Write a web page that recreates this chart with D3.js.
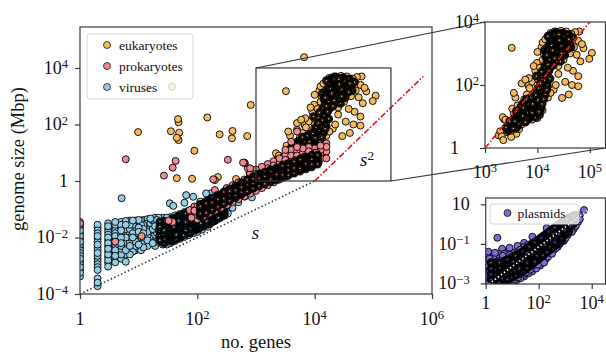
<!DOCTYPE html>
<html>
<head>
<meta charset="utf-8">
<script src="https://cdn.jsdelivr.net/npm/d3@7"></script>
<style>
  body { margin: 0; background: #fff; }
  svg text { font-family: 'Liberation Serif', 'DejaVu Serif', serif; fill: #111; }
</style>
</head>
<body>
<div id="chart"></div>
<script>
/**
 *  Genome size vs number of genes, with two insets
 *  every point is [log10 no. genes, log10 genome size (Mbp)]
 */

/** viruses: columns of points at one gene count, then the loose ones */
const virusColumns = [
  [0.00, [-1.45,-1.55,-1.65,-1.75,-1.85,-1.95,-2.05,-2.15,-2.25,-2.35,-2.45,-2.55,-2.65,-2.75,-2.85,-2.95,-3.05,-3.15,-3.25,-3.38]],
  [0.30, [-1.55,-1.65,-1.75,-1.85,-1.95,-2.05,-2.15,-2.25,-2.35,-2.45,-2.55,-2.65,-2.75,-2.85,-2.95,-3.05,-3.15,-3.45,-3.6,-3.72]],
  [0.48, [-1.5,-1.6,-1.7,-1.8,-1.9,-2.0,-2.1,-2.2,-2.3,-2.4,-2.5,-2.6,-2.7,-2.8,-2.9,-3.03]],
  [0.60, [-1.45,-1.55,-1.65,-1.75,-1.85,-1.95,-2.05,-2.15,-2.25,-2.35,-2.45,-2.55,-2.65,-2.75,-2.88]],
  [0.70, [-1.45,-1.55,-1.65,-1.75,-1.9,-2.0,-2.1,-2.2,-2.3,-2.4,-2.5,-2.6,-2.75]],
  [0.78, [-1.42,-1.55,-1.7,-1.85,-2.0,-2.15,-2.3,-2.45,-2.6,-2.86]],
  [0.85, [-1.4,-1.55,-1.7,-1.85,-2.0,-2.15,-2.3,-2.45,-2.6]],
  [0.90, [-1.4,-1.55,-1.7,-1.85,-2.0,-2.15,-2.3,-2.5]],
  [0.95, [-1.4,-1.55,-1.7,-1.85,-2.0,-2.15,-2.3,-2.45]],
  [1.00, [-1.38,-1.5,-1.65,-1.8,-1.95,-2.1,-2.25,-2.4]],
  [1.04, [-1.4,-1.55,-1.7,-1.85,-2.0,-2.2,-2.45]],
  [1.08, [-1.38,-1.55,-1.7,-1.85,-2.0,-2.15,-2.35]],
  [1.15, [-1.35,-1.5,-1.65,-1.8,-1.95,-2.1,-2.3]],
  [1.20, [-1.33,-1.5,-1.65,-1.8,-1.95,-2.15]],
  [1.24, [-1.4,-1.55,-1.7,-1.85,-2.0,-2.2]],
  [1.28, [-1.3,-1.45,-1.6,-1.75,-1.9,-2.1,-2.3]],
  [1.31, [-1.38,-1.52,-1.68,-1.83,-1.98,-2.15]],
  [1.34, [-1.3,-1.45,-1.6,-1.75,-1.9,-2.1]],
  [1.38, [-1.36,-1.5,-1.66,-1.82,-1.97,-2.12]],
  [1.41, [-1.3,-1.45,-1.6,-1.75,-1.9,-2.05,-2.25]],
  [1.45, [-1.37,-1.52,-1.68,-1.83,-1.98,-2.15]],
  [1.48, [-1.3,-1.45,-1.6,-1.75,-1.9,-2.05,-2.25]],
  [1.51, [-1.35,-1.5,-1.65,-1.8,-1.95,-2.1]],
  [1.54, [-1.28,-1.42,-1.57,-1.72,-1.87,-2.02,-2.2]],
  [1.58, [-1.3,-1.45,-1.6,-1.75,-1.9,-2.05]],
  [1.62, [-1.22,-1.37,-1.52,-1.67,-1.82,-1.97,-2.12]],
  [1.66, [-1.25,-1.4,-1.55,-1.7,-1.85,-2.0]],
  [1.70, [-1.17,-1.32,-1.47,-1.62,-1.77,-1.92,-2.05]],
  [1.74, [-1.2,-1.35,-1.5,-1.65,-1.8,-1.95]],
  [1.78, [-1.1,-1.25,-1.4,-1.55,-1.7,-1.85,-1.98]],
  [1.82, [-1.13,-1.28,-1.43,-1.58,-1.73,-1.88]],
  [1.85, [-1.05,-1.2,-1.35,-1.5,-1.65,-1.8,-1.92]],
  [1.89, [-1.06,-1.21,-1.36,-1.51,-1.66,-1.8]],
  [1.93, [-0.98,-1.12,-1.27,-1.42,-1.57,-1.72,-1.85]],
  [1.96, [-1.0,-1.15,-1.3,-1.45,-1.6,-1.75]],
  [2.00, [-0.92,-1.07,-1.22,-1.37,-1.52,-1.67,-1.8]],
  [2.04, [-0.95,-1.1,-1.25,-1.4,-1.55,-1.7]],
  [2.08, [-0.86,-1.0,-1.15,-1.3,-1.45,-1.6,-1.72]],
  [2.13, [-0.88,-1.02,-1.17,-1.32,-1.47,-1.6]],
  [2.18, [-0.8,-0.93,-1.07,-1.21,-1.35,-1.5,-1.62]],
  [2.22, [-0.8,-0.95,-1.1,-1.25,-1.4,-1.52]],
  [2.26, [-0.7,-0.85,-1.0,-1.15,-1.3,-1.45]],
  [2.30, [-0.7,-0.85,-1.0,-1.15,-1.3,-1.42]],
  [2.34, [-0.6,-0.75,-0.9,-1.05,-1.2,-1.35]],
  [2.38, [-0.6,-0.75,-0.9,-1.05,-1.2,-1.32]],
  [2.43, [-0.5,-0.65,-0.8,-0.95,-1.1,-1.25]],
  [2.47, [-0.5,-0.65,-0.8,-0.95,-1.1,-1.22]],
  [2.52, [-0.4,-0.55,-0.7,-0.85,-1.0,-1.15]],
  [2.60, [-0.35,-0.5,-0.65,-0.8,-0.95]],
  [2.70, [-0.3,-0.45,-0.6,-0.75]],
  [2.81, [-0.25,-0.4,-0.55]]
];
/** the crowded part of the virus band */
const virusCore = [
  [1.36, [-1.45,-1.62,-1.78,-1.94,-2.1]],
  [1.43, [-1.42,-1.58,-1.74,-1.9,-2.06,-2.2]],
  [1.56, [-1.38,-1.53,-1.69,-1.84,-2.0,-2.14]],
  [1.60, [-1.33,-1.48,-1.63,-1.78,-1.93,-2.08]],
  [1.64, [-1.3,-1.45,-1.6,-1.75,-1.9,-2.04]],
  [1.68, [-1.26,-1.41,-1.56,-1.71,-1.86,-2.0]],
  [1.72, [-1.22,-1.37,-1.52,-1.67,-1.82,-1.97]],
  [1.76, [-1.18,-1.33,-1.48,-1.63,-1.78,-1.92]],
  [1.80, [-1.15,-1.3,-1.45,-1.6,-1.75,-1.88]],
  [1.87, [-1.1,-1.25,-1.4,-1.55,-1.7,-1.84]],
  [1.91, [-1.03,-1.18,-1.33,-1.48,-1.63,-1.78]],
  [1.98, [-0.97,-1.12,-1.27,-1.42,-1.57,-1.72]],
  [2.02, [-0.94,-1.09,-1.24,-1.39,-1.54,-1.67]],
  [2.06, [-0.9,-1.05,-1.2,-1.35,-1.5,-1.63]],
  [2.10, [-0.86,-1.01,-1.16,-1.31,-1.46,-1.58]],
  [2.16, [-0.82,-0.97,-1.12,-1.27,-1.42,-1.54]],
  [2.20, [-0.77,-0.92,-1.07,-1.22,-1.37,-1.49]],
  [2.24, [-0.73,-0.88,-1.03,-1.18,-1.33,-1.45]],
  [2.28, [-0.68,-0.83,-0.98,-1.13,-1.28,-1.4]],
  [2.32, [-0.64,-0.79,-0.94,-1.09,-1.24,-1.36]],
  [2.36, [-0.6,-0.75,-0.9,-1.05,-1.18,-1.3]],
  [2.40, [-0.56,-0.71,-0.86,-1.01,-1.14,-1.26]],
  [2.45, [-0.5,-0.65,-0.8,-0.95,-1.08,-1.2]]
];
const virusExtra = [[0.71,-0.61],[1.53,-0.79],[1.59,-0.88],[1.81,-0.50],[1.78,-0.77],[2.15,-0.44],
  [1.93,-0.56],[2.05,-0.73],[2.22,-0.44],[2.67,-0.02],[2.90,-0.44],[2.93,-0.58]];

/** prokaryotes */
const prokColumns = [
  [1.90, [-1.3,-1.15]],
  [1.95, [-1.3,-1.05,-0.9]],
  [2.00, [-1.35,-1.2,-1.05,-0.9]],
  [2.03, [-1.25,-1.1,-0.88]],
  [2.07, [-1.2,-0.98,-0.82]],
  [2.10, [-1.25,-1.1,-0.95,-0.8]],
  [2.12, [-1.12,-0.93,-0.78]],
  [2.17, [-1.08,-0.9,-0.7]],
  [2.20, [-1.15,-1.0,-0.85,-0.7]],
  [2.23, [-1.02,-0.82,-0.66]],
  [2.27, [-0.98,-0.78,-0.6]],
  [2.30, [-1.05,-0.9,-0.75,-0.6,-0.32,0.03]],
  [2.33, [-0.9,-0.72,-0.55]],
  [2.37, [-0.86,-0.66,-0.5]],
  [2.40, [-0.95,-0.8,-0.65,-0.5]],
  [2.43, [-0.8,-0.6,-0.44]],
  [2.47, [-0.76,-0.57,-0.38]],
  [2.50, [-0.85,-0.7,-0.55,-0.4,-0.25]],
  [2.53, [-0.7,-0.5,-0.32]],
  [2.57, [-0.64,-0.46,-0.28]],
  [2.60, [-0.75,-0.6,-0.45,-0.3,-0.15]],
  [2.63, [-0.58,-0.4,-0.22]],
  [2.67, [-0.55,-0.35,-0.18]],
  [2.70, [-0.65,-0.5,-0.35,-0.2,-0.05]],
  [2.73, [-0.48,-0.3,-0.12]],
  [2.77, [-0.44,-0.24,-0.06]],
  [2.80, [-0.55,-0.4,-0.25,-0.1,0.05,0.65]],
  [2.83, [-0.38,-0.18,0.0]],
  [2.87, [-0.33,-0.13,0.05]],
  [2.90, [-0.45,-0.3,-0.15,0.0,0.15,0.27,0.45]],
  [2.93, [-0.27,-0.07,0.12]],
  [2.97, [-0.22,-0.03,0.15]],
  [3.00, [-0.35,-0.2,-0.05,0.1,0.25,0.4]],
  [3.03, [-0.18,0.02,0.2]],
  [3.07, [-0.14,0.06,0.24]],
  [3.10, [-0.25,-0.1,0.05,0.2,0.35,0.5]],
  [3.13, [-0.08,0.1,0.28]],
  [3.17, [-0.05,0.14,0.32]],
  [3.20, [-0.15,0.0,0.15,0.3,0.45,0.6]],
  [3.23, [0.0,0.18,0.37]],
  [3.27, [0.02,0.22,0.4]],
  [3.30, [-0.05,0.1,0.25,0.4,0.55,0.7]],
  [3.33, [0.08,0.26,0.45]],
  [3.37, [0.1,0.3,0.48]],
  [3.40, [0.05,0.2,0.35,0.5,0.65,0.8]],
  [3.43, [0.15,0.34,0.53]],
  [3.47, [0.18,0.38,0.56]],
  [3.50, [0.15,0.3,0.45,0.6,0.75,0.9,1.1]],
  [3.53, [0.22,0.42,0.62]],
  [3.57, [0.26,0.45,0.66]],
  [3.60, [0.3,0.45,0.6,0.75,0.9,1.05,1.1,1.39]],
  [3.63, [0.3,0.5,0.7]],
  [3.67, [0.33,0.53,0.74]],
  [3.70, [0.45,0.6,0.75,0.9,1.05,1.2,1.75,1.81]],
  [3.73, [0.38,0.58,0.78]],
  [3.77, [0.42,0.6,0.82]],
  [3.80, [0.55,0.7,0.85,1.0,1.15]],
  [3.83, [0.46,0.65,0.86]],
  [3.87, [0.5,0.68,0.9]],
  [3.90, [0.6,0.75,0.9,1.05,1.2]],
  [3.93, [0.55,0.72,0.92]],
  [3.97, [0.58,0.76,0.96]],
  [4.00, [0.7,0.85,1.0,1.15]],
  [4.03, [0.62,0.8,1.0]],
  [4.07, [0.68,0.85,1.02]],
  [4.10, [0.8,0.95,1.1,1.25]],
  [4.20, [0.8,1.04,1.21,1.33]]
];
/** the crowded middle of the prokaryote band */
const prokCore = [
  [2.05, [-1.24,-1.15,-1.06,-0.98,-0.9,-0.83]],
  [2.15, [-1.13,-1.04,-0.95,-0.87,-0.79,-0.72]],
  [2.25, [-1.02,-0.93,-0.84,-0.76,-0.68,-0.61]],
  [2.35, [-0.91,-0.82,-0.73,-0.65,-0.57,-0.5]],
  [2.45, [-0.8,-0.71,-0.62,-0.54,-0.46,-0.39]],
  [2.55, [-0.7,-0.61,-0.52,-0.44,-0.36,-0.29]],
  [2.65, [-0.59,-0.5,-0.41,-0.33,-0.25,-0.18]],
  [2.75, [-0.48,-0.39,-0.3,-0.22,-0.14,-0.07]],
  [2.85, [-0.37,-0.28,-0.19,-0.11,-0.03,0.04]],
  [2.95, [-0.26,-0.17,-0.08,0.0,0.08,0.15]],
  [3.05, [-0.17,-0.08,0.01,0.09,0.17,0.24]],
  [3.15, [-0.1,-0.01,0.08,0.16,0.24,0.31]],
  [3.25, [-0.02,0.07,0.16,0.24,0.32,0.39]],
  [3.35, [0.05,0.14,0.23,0.31,0.39,0.46]],
  [3.45, [0.13,0.22,0.31,0.39,0.47,0.54]],
  [3.55, [0.2,0.29,0.38,0.46,0.54,0.61]],
  [3.65, [0.28,0.37,0.46,0.54,0.62,0.69]],
  [3.75, [0.35,0.44,0.53,0.61,0.69,0.76]],
  [3.85, [0.43,0.52,0.61,0.69,0.77,0.84]],
  [3.95, [0.5,0.59,0.68,0.76,0.84,0.91]],
  [4.05, [0.6,0.68,0.76,0.84,0.92]]
];
const prokExtra = [[0.0,-1.5],[0.6,-2.15],[0.78,0.77],[1.05,-1.95],[1.43,0.19],[1.51,-1.41],[1.58,-1.45],
  [1.58,0.47],[1.63,0.71],[1.87,-1.03],[1.95,-1.09],[2.10,-0.97],[2.27,0.06],[2.52,0.75],[2.78,0.65],
  [2.81,0.63],[2.86,0.45],[2.89,0.27]];

/** eukaryotes */
const eukaryotes = [
  [0.99,1.73],[1.13,3.28],[1.57,3.34],[1.55,1.76],[1.65,1.53],[1.67,2.19],[1.68,2.08],[1.68,1.45],
  [1.69,1.71],[1.95,1.07],[2.17,2.25],[2.38,1.65],[2.59,1.51],[2.60,1.77],[2.85,1.59],[2.91,2.69],
  [1.65,0.10],[1.91,0.08],[2.35,0.14],[2.66,0.07],[3.36,0.92],[3.51,3.18],[3.82,4.38],
  [3.26,0.4],[3.29,0.53],[3.32,0.37],[3.34,0.98],[3.39,0.9],[3.4,0.88],[3.42,0.5],[3.45,0.7],
  [3.35,0.25],[3.5,0.35],[3.52,1.25],
  [3.55,0.8],[3.6,1.0],[3.65,1.2],[3.7,1.4],[3.75,1.55],[3.8,1.7],[3.85,1.5],[3.9,1.3],[3.95,1.1],
  [4.0,1.25],[4.05,1.4],[3.9,0.9],[3.8,0.85],[3.7,0.75],[3.75,1.0],[3.85,1.15],[3.65,0.6],[3.6,0.45],
  [3.5,0.55],[3.55,1.1],[3.58,1.6],[3.55,1.75],[3.62,1.35],[3.95,1.55],[4.1,1.2],[3.93,1.11],
  [4.0,0.95],[3.82,1.3],[3.72,1.2],[3.68,0.95],[3.78,1.35],[3.88,1.4],[3.7,1.05],[3.8,1.05],
  [3.92,1.45],[4.02,1.6],
  [4.1,2.2],[4.0,2.0],[3.95,1.8],[4.05,1.7],[4.15,1.95],[4.2,2.1],[3.9,2.1],[3.84,2.22],[3.77,2.17],
  [3.7,2.05],[3.85,1.9],[4.1,1.5],[4.2,1.6],[4.25,1.75],[4.35,2.0],[4.05,2.35],[3.83,1.98],
  [4.12,1.85],[4.0,2.2],
  [4.15,2.7],[4.2,2.85],[4.25,3.0],[4.3,3.15],[4.35,3.3],[4.4,3.45],[4.45,3.55],[4.5,3.65],
  [4.38,3.62],[4.3,3.55],[4.22,3.4],[4.18,3.2],[4.12,3.0],[4.1,2.8],[4.28,2.9],[4.35,3.05],
  [4.42,3.2],[4.5,3.35],[4.58,3.5],[4.65,3.62],[4.72,3.68],[4.6,3.3],[4.55,3.1],[4.45,2.95],
  [4.38,2.8],[4.3,2.7],[4.25,2.55],[4.4,2.6],[4.5,2.8],[4.62,3.0],[4.7,3.2],[4.78,3.4],[4.8,3.7],
  [4.85,3.3],[4.88,3.17],[4.75,2.96],[4.82,2.75],[5.04,3.02],[4.99,2.83],[4.78,2.28],[4.78,1.96],
  [4.66,2.0],[4.6,1.7],[4.47,1.59],[4.31,1.85],[4.53,2.1],[4.68,2.45],[4.58,2.55],[4.4,2.35],
  [4.2,2.4],[4.05,2.55],[3.99,2.7],[3.93,2.6],[3.96,2.45],[4.0,3.05],[4.08,3.2],[4.15,3.45],
  [4.25,3.65],[4.33,3.7],[4.45,3.72],[4.55,3.7],[4.62,3.55],[4.1,3.35]
];
/** the crowded parts of the eukaryote cloud */
const eukCore = [
  [3.58,0.72],[3.62,0.88],[3.66,1.02],[3.69,1.15],[3.73,1.28],[3.76,1.12],[3.79,0.98],[3.83,1.22],
  [3.86,1.35],[3.89,1.18],[3.92,1.02],[3.96,1.28],[3.99,1.42],[4.03,1.15],[4.06,1.3],[3.64,0.78],
  [3.68,1.25],[3.71,0.9],[3.74,1.42],[3.77,0.82],[3.81,1.48],[3.84,1.02],[3.87,1.6],[3.9,1.12],
  [3.94,1.36],[3.97,0.98],[4.01,1.52],[4.04,1.05],[4.08,1.62],[3.6,1.18],[3.56,0.95],[3.52,0.7],
  [3.48,0.62],[3.44,0.55],[3.4,0.65],[3.47,0.85],
  [3.57,0.85],[3.61,1.08],[3.63,0.7],[3.67,0.92],[3.69,1.32],[3.72,1.02],[3.74,0.88],[3.76,1.3],
  [3.78,1.18],[3.81,0.92],[3.82,1.12],[3.84,1.4],[3.86,1.08],[3.88,1.25],[3.91,1.4],[3.93,1.2],
  [3.95,1.45],[3.98,1.15],[4.0,1.38],[4.03,1.5],[4.06,1.22],[4.09,1.4],[3.66,1.1],[3.71,1.3],
  [3.79,1.55],[3.89,1.52],[3.75,0.95],[3.85,0.95],[3.59,0.62],[3.54,0.62],[4.12,1.55],[4.15,1.7],
  [4.18,1.85],[3.92,1.65],[3.97,1.68],
  [3.98,1.75],[4.02,1.9],[4.06,2.05],[4.09,1.78],[4.13,2.15],[4.16,2.3],[4.19,1.98],[4.22,2.45],
  [4.24,2.2],[4.27,2.6],[4.08,2.42],[3.98,2.28],[4.14,2.58],
  [4.18,2.75],[4.21,2.95],[4.24,3.1],[4.27,3.25],[4.3,3.0],[4.33,2.85],[4.36,3.15],[4.39,3.35],
  [4.42,3.05],[4.45,3.25],[4.48,3.45],[4.51,3.15],[4.54,3.4],[4.57,3.6],[4.33,3.45],[4.28,3.38],
  [4.36,3.55],[4.41,3.6],[4.47,3.1],[4.52,2.95],[4.56,3.25],[4.6,3.45],[4.64,3.2],[4.68,3.5],
  [4.22,3.25],[4.19,3.05],[4.26,2.8],[4.31,2.65],[4.37,2.95],[4.44,2.75],[4.5,3.55],[4.4,3.5],
  [4.34,3.6],[4.26,3.5],[4.16,2.9],[4.13,3.1],[4.2,3.55],
  [4.2,2.65],[4.23,2.8],[4.26,2.95],[4.29,3.1],[4.32,3.2],[4.35,3.4],[4.38,3.1],[4.41,2.9],
  [4.43,3.3],[4.46,3.4],[4.49,3.2],[4.52,3.05],[4.54,3.55],[4.57,3.35],[4.6,3.6],[4.63,3.4],
  [4.24,3.45],[4.3,3.4],[4.37,3.5],[4.44,3.62],[4.48,3.65],[4.31,3.62],[4.27,3.6],[4.21,3.1],
  [4.18,2.95],[4.34,2.75],[4.39,3.22],[4.46,3.0],[4.53,3.28],[4.58,3.15],[4.42,3.42],[4.36,3.68],
  [4.29,2.85],[4.25,3.2]
];

/** plasmids (bottom inset) */
const plasmidColumns = [
  [0.00, [-1.65,-1.8,-1.95,-2.1,-2.25,-2.4,-2.55,-2.7,-2.85,-3.0]],
  [0.15, [-1.75,-2.05,-2.35,-2.65,-2.95]],
  [0.30, [-1.6,-1.9,-2.15,-2.4,-2.65,-2.9]],
  [0.40, [-1.7,-1.95,-2.2,-2.45,-2.7,-2.95]],
  [0.48, [-1.5,-1.75,-2.0,-2.25,-2.5,-2.75,-3.0]],
  [0.54, [-1.85,-2.1,-2.35,-2.6,-2.85]],
  [0.60, [-1.45,-1.7,-1.95,-2.2,-2.45,-2.7,-2.95]],
  [0.65, [-1.6,-1.85,-2.1,-2.35,-2.6,-2.85]],
  [0.70, [-1.5,-1.75,-2.0,-2.25,-2.5,-2.75,-3.0]],
  [0.78, [-1.65,-1.9,-2.15,-2.4,-2.65,-2.9]],
  [0.85, [-1.4,-1.65,-1.9,-2.15,-2.4,-2.65,-2.9]],
  [0.92, [-1.55,-1.8,-2.05,-2.3,-2.55,-2.8]],
  [1.00, [-1.45,-1.7,-1.95,-2.2,-2.45,-2.7,-2.95]],
  [1.08, [-1.55,-1.8,-2.05,-2.3,-2.55,-2.8]],
  [1.15, [-1.4,-1.6,-1.85,-2.1,-2.35,-2.6,-2.85]],
  [1.22, [-1.45,-1.7,-1.95,-2.2,-2.45,-2.7]],
  [1.30, [-1.3,-1.5,-1.75,-2.0,-2.25,-2.5,-2.75]],
  [1.38, [-1.35,-1.6,-1.85,-2.1,-2.35,-2.6]],
  [1.45, [-1.15,-1.4,-1.65,-1.9,-2.15,-2.4,-2.65]],
  [1.52, [-1.25,-1.5,-1.75,-2.0,-2.25,-2.45]],
  [1.60, [-1.05,-1.3,-1.55,-1.8,-2.05,-2.3,-2.5]],
  [1.68, [-1.1,-1.35,-1.6,-1.85,-2.1,-2.3]],
  [1.75, [-0.95,-1.15,-1.4,-1.65,-1.9,-2.15,-2.4]],
  [1.82, [-1.0,-1.25,-1.5,-1.75,-2.0,-2.2]],
  [1.90, [-0.85,-1.05,-1.3,-1.55,-1.8,-2.0,-2.25]],
  [1.98, [-0.9,-1.15,-1.4,-1.65,-1.9,-2.05]],
  [2.05, [-0.7,-0.95,-1.2,-1.45,-1.7,-1.95,-2.1]],
  [2.12, [-0.75,-1.0,-1.25,-1.5,-1.75,-1.9]],
  [2.20, [-0.6,-0.8,-1.05,-1.3,-1.55,-1.8,-1.95]],
  [2.28, [-0.6,-0.85,-1.1,-1.35,-1.6,-1.75]],
  [2.35, [-0.45,-0.7,-0.95,-1.2,-1.45,-1.65]],
  [2.42, [-0.5,-0.75,-1.0,-1.25,-1.45]],
  [2.50, [-0.3,-0.55,-0.8,-1.05,-1.3,-1.5]],
  [2.58, [-0.35,-0.6,-0.85,-1.1,-1.3]],
  [2.65, [-0.2,-0.45,-0.7,-0.95,-1.2]],
  [2.72, [-0.25,-0.5,-0.75,-1.0,-1.15]],
  [2.80, [-0.05,-0.3,-0.55,-0.8,-1.0]],
  [2.88, [-0.1,-0.35,-0.6,-0.85]],
  [2.95, [0.05,-0.2,-0.45,-0.7,-0.85]],
  [3.02, [0.0,-0.25,-0.5,-0.7]],
  [3.10, [0.2,-0.05,-0.3,-0.55]],
  [3.18, [0.15,-0.1,-0.35]],
  [3.25, [0.3,0.05,-0.2,-0.4]],
  [3.32, [0.25,0.0,-0.25]],
  [3.40, [0.4,0.15,-0.1]],
  [3.48, [0.35,0.1]],
  [3.55, [0.45,0.25]]
];
/** the crowded middle of the plasmid band */
const plasmidCore = [
  [0.20, [-1.95,-2.25,-2.55,-2.8]],
  [0.35, [-2.0,-2.3,-2.55,-2.8]],
  [0.52, [-1.95,-2.2,-2.45,-2.7,-2.95]],
  [0.63, [-2.0,-2.25,-2.5,-2.75]],
  [0.74, [-1.85,-2.1,-2.35,-2.6,-2.85]],
  [0.82, [-1.8,-2.05,-2.3,-2.55,-2.8]],
  [0.96, [-1.7,-1.95,-2.2,-2.45,-2.7]],
  [1.04, [-1.65,-1.9,-2.15,-2.4,-2.65]],
  [1.12, [-1.6,-1.85,-2.1,-2.35,-2.6]],
  [1.19, [-1.55,-1.8,-2.05,-2.3,-2.55]],
  [1.26, [-1.5,-1.75,-2.0,-2.25,-2.5]],
  [1.34, [-1.45,-1.7,-1.95,-2.2,-2.45]],
  [1.41, [-1.38,-1.63,-1.88,-2.13,-2.38]],
  [1.49, [-1.3,-1.55,-1.8,-2.05,-2.3]],
  [1.56, [-1.22,-1.47,-1.72,-1.97,-2.22]],
  [1.64, [-1.15,-1.4,-1.65,-1.9,-2.15]],
  [1.71, [-1.08,-1.33,-1.58,-1.83,-2.05]],
  [1.79, [-1.0,-1.25,-1.5,-1.75,-1.98]],
  [1.86, [-0.92,-1.17,-1.42,-1.67,-1.9]],
  [1.94, [-0.85,-1.1,-1.35,-1.6,-1.82]],
  [2.01, [-0.78,-1.03,-1.28,-1.53,-1.75]],
  [2.09, [-0.7,-0.95,-1.2,-1.45,-1.66]],
  [2.16, [-0.62,-0.87,-1.12,-1.37,-1.58]],
  [2.24, [-0.55,-0.8,-1.05,-1.3,-1.5]],
  [2.31, [-0.47,-0.72,-0.97,-1.22,-1.42]],
  [2.39, [-0.4,-0.65,-0.9,-1.15,-1.33]],
  [2.46, [-0.32,-0.57,-0.82,-1.07,-1.25]],
  [2.54, [-0.25,-0.5,-0.75,-1.0,-1.17]],
  [2.61, [-0.17,-0.42,-0.67,-0.92,-1.08]],
  [2.69, [-0.1,-0.35,-0.6,-0.85,-1.0]],
  [2.76, [-0.02,-0.27,-0.52,-0.77,-0.92]],
  [2.84, [0.05,-0.2,-0.45,-0.7,-0.83]],
  [2.91, [0.12,-0.12,-0.37,-0.62]],
  [2.99, [0.18,-0.05,-0.3,-0.55]],
  [3.06, [0.25,0.02,-0.22,-0.45]],
  [3.14, [0.3,0.08,-0.15,-0.38]],
  [3.21, [0.35,0.13,-0.08]],
  [3.29, [0.4,0.18,-0.02]],
  [3.36, [0.45,0.22]]
];
const plasmidExtra = [[3.71,0.71],[0.44,-0.69],[1.76,-0.64],[0.1,-1.4],[0.35,-1.45],[0.62,-1.25],
  [0.9,-1.2],[1.2,-1.1],[1.45,-0.95],[2.3,-0.2]];

/** tick exponents and legend labels */
const mainXTicks = [0, 2, 4, 6];
const mainYTicks = [-4, -2, 0, 2, 4];
const eukXTicks = [3, 4, 5];
const eukYTicks = [0, 2, 4];
const plasXTicks = [0, 2, 4];
const plasYTicks = [-3, -1, 1];
const legendLabels = ['eukaryotes', 'prokaryotes', 'viruses'];

const colors = { euk: '#f6ba5e', prok: '#f08a8e', virus: '#96cde6', plasmid: '#7a6fd6' };

function flatten(cols) {
    return cols.flatMap(c => c[1].map(v => [c[0], v]));
}
/** mark which points sit in a crowded core (drawn with heavier edges) */
function tag(points, core) {
    return points.map(p => ({ p: p, core: core }));
}
/** fixed drawing order: loose points mixed first, crowded core over them (values unchanged) */
let mix = d3.shuffler(d3.randomLcg(0.42));
function layered(loose, core) {
    return mix(tag(loose, false)).concat(mix(tag(core, true)));
}
const virusData = layered(flatten(virusColumns).concat(virusExtra), flatten(virusCore));
const prokData = layered(flatten(prokColumns).concat(prokExtra), flatten(prokCore));
const eukData = layered(eukaryotes, eukCore);
const plasmidData = layered(flatten(plasmidColumns).concat(plasmidExtra), flatten(plasmidCore));

/** Set up svg */
let width = 606, height = 354;
let svg = d3.select('#chart').append('svg')
    .attr('width', width)
    .attr('height', height);

/** panel helper: scales, clip and a layer for the marks */
function makePanel(box, xDom, yDom, name) {
    let x = d3.scaleLog().domain(xDom).range([box.left, box.right]);
    let y = d3.scaleLog().domain(yDom).range([box.bottom, box.top]);
    svg.append('clipPath').attr('id', name)
        .append('rect')
        .attr('x', box.left).attr('y', box.top)
        .attr('width', box.right - box.left)
        .attr('height', box.bottom - box.top);
    let g = svg.append('g');
    g.append('rect')
        .attr('x', box.left).attr('y', box.top)
        .attr('width', box.right - box.left)
        .attr('height', box.bottom - box.top)
        .attr('fill', '#fff');
    let plot = g.append('g').attr('clip-path', `url(#${name})`);
    return { g, plot, x, y, box };
}

function scatter(panel, data, fill) {
    panel.plot.append('g')
        .selectAll('circle')
        .data(data)
        .enter()
            .append('circle')
            .attr('cx', d => panel.x(Math.pow(10, d.p[0])))
            .attr('cy', d => panel.y(Math.pow(10, d.p[1])))
            .attr('r', d => d.core ? 2.6 : 3.5)
            .attr('fill', fill)
            .attr('stroke', '#000')
            .attr('stroke-opacity', 0.9)
            .attr('stroke-width', d => d.core ? 3.6 : 1);
}

function powLabel(text, e) {
    if (e === 0) { text.text('1'); return; }
    if (e === 1) { text.text('10'); return; }
    text.append('tspan').text('10');
    text.append('tspan')
        .attr('dy', '-0.45em')
        .attr('font-size', '0.7em')
        .text(e < 0 ? '\u2212' + (-e) : e);
}

/** axes with 10^n labels, frame around the panel */
function drawAxes(panel, xTicks, yTicks, opt) {
    let xAxis = d3.axisBottom(panel.x).tickValues(xTicks.map(e => Math.pow(10, e)))
        .tickSize(5).tickFormat('');
    let yAxis = d3.axisLeft(panel.y).tickValues(yTicks.map(e => Math.pow(10, e)))
        .tickSize(5).tickFormat('');
    let gx = panel.g.append('g')
        .attr('transform', `translate(0, ${panel.box.bottom})`)
        .call(xAxis);
    let gy = panel.g.append('g')
        .attr('transform', `translate(${panel.box.left}, 0)`)
        .call(yAxis);
    [gx, gy].forEach(a => {
        a.select('.domain').remove();
        a.selectAll('.tick line').attr('stroke', '#3a3a3a').attr('stroke-width', 1.2);
    });

    xTicks.forEach(e => {
        let t = panel.g.append('text')
            .attr('x', panel.x(Math.pow(10, e)))
            .attr('y', panel.box.bottom + opt.xLabelDy)
            .attr('text-anchor', 'middle')
            .attr('font-size', opt.fs);
        powLabel(t, e);
    });
    yTicks.forEach(e => {
        let t = panel.g.append('text')
            .attr('x', panel.box.left - (opt.yPad[e] !== undefined ? opt.yPad[e] : opt.yPad.all))
            .attr('y', panel.y(Math.pow(10, e)) + 6)
            .attr('text-anchor', 'end')
            .attr('font-size', opt.fs);
        powLabel(t, e);
    });

    panel.g.append('rect')
        .attr('x', panel.box.left).attr('y', panel.box.top)
        .attr('width', panel.box.right - panel.box.left)
        .attr('height', panel.box.bottom - panel.box.top)
        .attr('fill', 'none')
        .attr('stroke', '#3a3a3a')
        .attr('stroke-width', 1.2);
}

let lineGen = (p) => d3.line().x(d => p.x(d[0])).y(d => p.y(d[1]));

/** ---------------- main panel ---------------- */
let main = makePanel({ left: 80, right: 432, top: 27, bottom: 294 }, [1, 1e6], [1e-4, Math.pow(10, 5.45)], 'clipMain');

scatter(main, virusData, colors.virus);
scatter(main, eukData, colors.euk);
scatter(main, prokData, colors.prok);

/** s and s^2 guide lines */
main.plot.append('path')
    .attr('d', lineGen(main)([[1, 1e-4], [1e4, 1]]))
    .attr('fill', 'none')
    .attr('stroke', '#333')
    .attr('stroke-width', 1.6)
    .attr('stroke-dasharray', '1.4,2.4');
main.plot.append('path')
    .attr('d', lineGen(main)([[1e4, 1], [Math.pow(10, 5.85), Math.pow(10, 3.7)]]))
    .attr('fill', 'none')
    .attr('stroke', '#ee1111')
    .attr('stroke-width', 1.6)
    .attr('stroke-dasharray', '6,2,1.5,2');

/** zoom box */
let boxX0 = main.x(1e3), boxX1 = main.x(Math.pow(10, 5.3));
let boxY0 = main.y(1e4), boxY1 = main.y(1);
main.g.append('rect')
    .attr('x', boxX0).attr('y', boxY0)
    .attr('width', boxX1 - boxX0).attr('height', boxY1 - boxY0)
    .attr('fill', 'none')
    .attr('stroke', '#333')
    .attr('stroke-width', 1.2);

drawAxes(main, mainXTicks, mainYTicks, { fs: 18, xLabelDy: 31, yPad: { all: 12 } });

/** text labels on the main panel */
main.g.append('text')
    .attr('x', 255.5).attr('y', 239)
    .attr('text-anchor', 'middle')
    .attr('font-size', 19)
    .style('font-style', 'italic')
    .text('s');
let s2 = main.g.append('text')
    .attr('x', 360).attr('y', 166)
    .attr('font-size', 19)
    .style('font-style', 'italic');
s2.append('tspan').text('s');
s2.append('tspan').attr('dy', '-0.45em').attr('font-size', '0.7em').style('font-style', 'normal').text('2');

svg.append('text')
    .attr('x', 256).attr('y', 348)
    .attr('text-anchor', 'middle')
    .attr('font-size', 18.5)
    .text('no. genes');
svg.append('text')
    .attr('transform', 'translate(24, 159) rotate(-90)')
    .attr('text-anchor', 'middle')
    .attr('font-size', 18.5)
    .text('genome size (Mbp)');

/** legend */
let legend = main.g.append('g');
legend.append('rect')
    .attr('x', 87).attr('y', 34)
    .attr('width', 106).attr('height', 65)
    .attr('rx', 3)
    .attr('fill', '#fff').attr('fill-opacity', 0.8)
    .attr('stroke', '#d6d6d6');
let legendColors = [colors.euk, colors.prok, colors.virus];
legendLabels.forEach((lab, i) => {
    let yy = 45 + i * 21;
    legend.append('circle')
        .attr('cx', 107).attr('cy', yy).attr('r', 3.5)
        .attr('fill', legendColors[i])
        .attr('stroke', '#000').attr('stroke-opacity', 0.8).attr('stroke-width', 0.9);
    legend.append('text')
        .attr('x', 119).attr('y', yy + 4.5)
        .attr('font-size', 13.5)
        .text(lab);
});

/** ---------------- eukaryote inset ---------------- */
let eukBox = { left: 485, right: 605.5, top: 22, bottom: 148 };

/** connector lines between zoom box and inset */
svg.append('line')
    .attr('x1', boxX0).attr('y1', boxY0)
    .attr('x2', eukBox.left).attr('y2', eukBox.top)
    .attr('stroke', '#333').attr('stroke-width', 1.1);
svg.append('line')
    .attr('x1', boxX1).attr('y1', boxY1)
    .attr('x2', eukBox.right).attr('y2', eukBox.bottom)
    .attr('stroke', '#333').attr('stroke-width', 1.1);

let inset = makePanel(eukBox, [1e3, Math.pow(10, 5.3)], [1, 1e4], 'clipEuk');
scatter(inset, eukData, colors.euk);
inset.plot.append('path')
    .attr('d', lineGen(inset)([[1e3, 1], [Math.pow(10, 5.3), Math.pow(10, 4.6)]]))
    .attr('fill', 'none')
    .attr('stroke', '#ee1111')
    .attr('stroke-width', 1.6)
    .attr('stroke-dasharray', '6,2,1.5,2');
drawAxes(inset, eukXTicks, eukYTicks, { fs: 18, xLabelDy: 30, yPad: { all: 6, 0: 26 } });

/** ---------------- plasmid inset ---------------- */
let plas = makePanel({ left: 485.7, right: 605.5, top: 198, bottom: 284 },
    [1, Math.pow(10, 4.52)], [Math.pow(10, -3.03), Math.pow(10, 1.32)], 'clipPlas');
scatter(plas, plasmidData, colors.plasmid);
plas.plot.append('path')
    .attr('d', lineGen(plas)([[1, Math.pow(10, -3.15)], [Math.pow(10, 4.52), Math.pow(10, 1.37)]]))
    .attr('fill', 'none')
    .attr('stroke', '#fff')
    .attr('stroke-width', 1.6)
    .attr('stroke-dasharray', '1.4,2.4');
drawAxes(plas, plasXTicks, plasYTicks, { fs: 18, xLabelDy: 25, yPad: { all: 16 } });

let plasLegend = plas.g.append('g');
plasLegend.append('rect')
    .attr('x', 490).attr('y', 204)
    .attr('width', 89).attr('height', 20)
    .attr('rx', 3)
    .attr('fill', '#fff').attr('fill-opacity', 0.8)
    .attr('stroke', '#d6d6d6');
plasLegend.append('circle')
    .attr('cx', 507.5).attr('cy', 213).attr('r', 3.5)
    .attr('fill', colors.plasmid)
    .attr('stroke', '#000').attr('stroke-opacity', 0.8).attr('stroke-width', 0.9);
plasLegend.append('text')
    .attr('x', 517.5).attr('y', 217.5)
    .attr('font-size', 13.5)
    .text('plasmids');
</script>
</body>
</html>
